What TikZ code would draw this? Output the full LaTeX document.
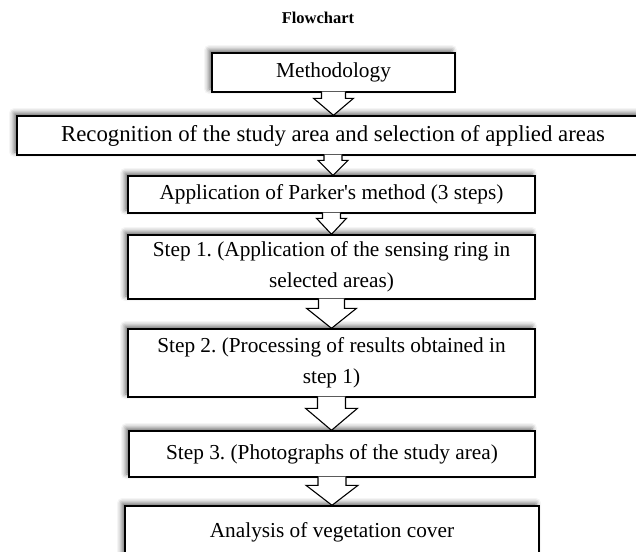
\documentclass[tikz,border=0pt]{standalone}
\usepackage{fontspec}
\setmainfont{Liberation Serif}
\usetikzlibrary{calc,shadows.blur}
\frenchspacing
\tikzset{
  box/.style={draw, line width=1.4pt, fill=white, align=center, inner sep=0pt,
    font=\fontsize{21.3}{31}\selectfont,
    blur shadow={shadow xshift=-3pt, shadow yshift=3pt, shadow blur radius=5pt, shadow opacity=60}},
  hollow/.style n args={3}{draw, line width=1.1pt, fill=white, to path={
    let \p1=(\tikztostart), \p2=(\tikztotarget) in
    (\x1-#1,\y1+1pt) -- (\x1-#1,\y2+#3) -- (\x1-#2,\y2+#3) -- (\x1,\y2)
    -- (\x1+#2,\y2+#3) -- (\x1+#1,\y2+#3) -- (\x1+#1,\y1+1pt)}}
}
\begin{document}
\begin{tikzpicture}[x=1pt,y=-1pt]
      \clip (0,0) rectangle (636,551);
      \node[font=\bfseries\fontsize{16.5}{20}\selectfont] (title) at (318,18) {Flowchart};
      \node[box, minimum width=243, minimum height=39] (meth) at (333.5,72.5) {Methodology};
      \node[box, minimum width=632, minimum height=39, font=\fontsize{22.8}{31}\selectfont] (recog) at (333,135.5)
        {Recognition of the study area and selection of applied areas};
      \node[box, minimum width=407, minimum height=37] (parker) at (331.5,194.5)
        {Application of Parker\textquotesingle s method (3 steps)};
      \node[box, minimum width=407, minimum height=64] (step1) at (331.5,267)
        {Step 1. (Application of the sensing ring in\\selected areas)};
      \node[box, minimum width=407, minimum height=68] (step2) at (331.5,363)
        {Step 2. (Processing of results obtained in\\step 1)};
      \node[box, minimum width=406, minimum height=46] (step3) at (332,454)
        {Step 3. (Photographs of the study area)};
      \node[box, minimum width=414, minimum height=52] (analysis) at (332,532)
        {Analysis of vegetation cover};
      \begin{scope}
        \draw[hollow={12pt}{20pt}{17pt}] (meth.south) to (recog.north);
        \draw[hollow={9pt}{15pt}{15pt}] (recog.south) to (parker.north);
        \draw[hollow={9pt}{15pt}{16pt}] (parker.south) to (step1.north);
        \draw[hollow={13pt}{25pt}{20pt}] (step1.south) to (step2.north);
        \draw[hollow={14pt}{26pt}{22pt}] (step2.south) to (step3.north);
        \draw[hollow={14pt}{26pt}{20pt}] (step3.south) to (analysis.north);
      \end{scope}
    \end{tikzpicture}
\end{document}
